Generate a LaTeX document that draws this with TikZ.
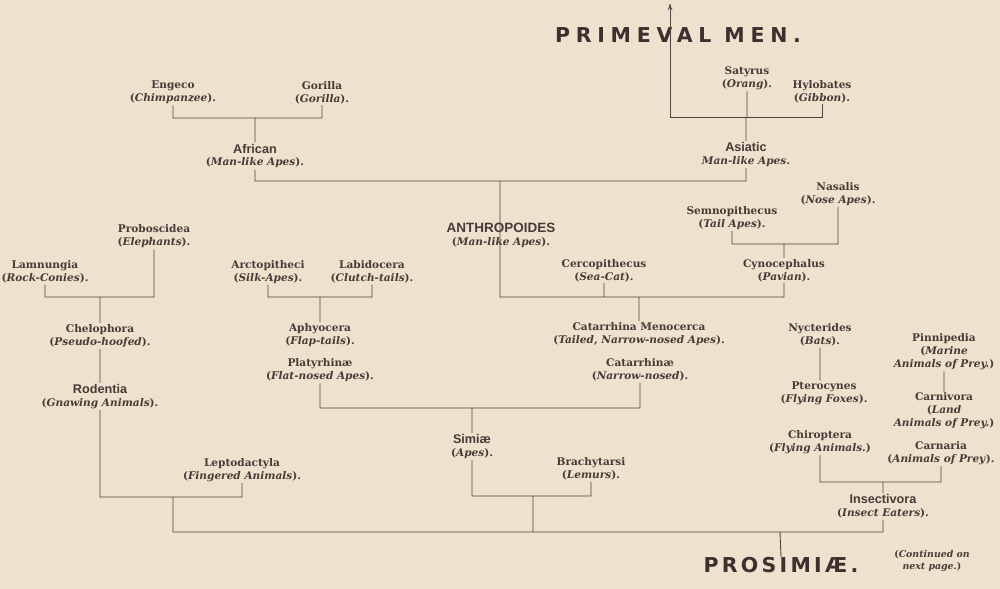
\documentclass[tikz,border=0pt]{standalone}
\usepackage{fontspec}
\setmainfont{DejaVu Serif}
\newfontfamily\grotesk{Liberation Sans}
\newfontfamily\spacedA{DejaVu Sans}[LetterSpace=28]
\newfontfamily\spacedB{DejaVu Sans}[LetterSpace=16]
\usetikzlibrary{calc, positioning}
\usetikzlibrary{arrows.meta}
\definecolor{paper}{RGB}{236,226,205}
\definecolor{ink}{RGB}{72,58,55}
\definecolor{rulecol}{RGB}{78,70,62}
\newcommand{\taxon}[2]{#1\\(\textit{#2}).}
\newcommand{\grp}[1]{{\grotesk\mdseries\bfseries\fontsize{10.8}{11}\selectfont #1}}

\begin{document}
\begin{tikzpicture}[x=0.03cm, y=-0.03cm,
		taxon/.style={align=center, inner sep=1pt, text=ink,
		              font=\bfseries\fontsize{9}{11}\selectfont},
		title/.style={inner sep=0pt, text=ink!85!black},
		branch/.style={draw=rulecol, line width=0.75pt}]
		\fill[paper] (0,0) rectangle (1000,589);
		\useasboundingbox (0,0) rectangle (1000,589);

		\node[title, font=\spacedA\bfseries\fontsize{17.5}{18}\selectfont]
		             (prim)      at (678, 35)  {PRIMEVAL MEN.};
		\node[taxon] (satyrus)   at (747, 78.5){\taxon{Satyrus}{Orang}};
		\node[taxon] (hylobates) at (822, 91.5){\taxon{Hylobates}{Gibbon}};
		\node[taxon] (asiatic)   at (746,154.5){\grp{Asiatic}\\\textit{Man-like Apes.}};
		\node[taxon] (engeco)    at (173, 92.5){\taxon{Engeco}{Chimpanzee}};
		\node[taxon] (gorilla)   at (322, 92.5){\taxon{Gorilla}{Gorilla}};
		\node[taxon] (african)   at (255,156)  {\grp{African}\\(\textit{Man-like Apes}).};
		\node[taxon] (anthro)    at (501,235)  {{\grotesk\mdseries\bfseries\fontsize{11.5}{12}\selectfont ANTHROPOIDES}\\(\textit{Man-like Apes}).};
		\node[taxon] (cerco)     at (604,270.5){\taxon{Cercopithecus}{Sea-Cat}};
		\node[taxon] (cyno)      at (784,270.5){\taxon{Cynocephalus}{Pavian}};
		\node[taxon] (semno)     at (732,218)  {\taxon{Semnopithecus}{Tail Apes}};
		\node[taxon] (nasalis)   at (838,194)  {\taxon{Nasalis}{Nose Apes}};
		\node[taxon] (menocerca) at (639,334)  {\taxon{Catarrhina Menocerca}{Tailed, Narrow-nosed Apes}};
		\node[taxon] (catarrh)   at (640,370)  {\taxon{Catarrhinæ}{Narrow-nosed}};
		\node[taxon] (platyr)    at (320,370.5){\taxon{Platyrhinæ}{Flat-nosed Apes}};
		\node[taxon] (aphyo)     at (320,335)  {\taxon{Aphyocera}{Flap-tails}};
		\node[taxon] (arcto)     at (268,272)  {\taxon{Arctopitheci}{Silk-Apes}};
		\node[taxon] (labido)    at (372,272)  {\taxon{Labidocera}{Clutch-tails}};
		\node[taxon] (probos)    at (154,236.5){\taxon{Proboscidea}{Elephants}};
		\node[taxon] (lamnun)    at ( 45,272)  {\taxon{Lamnungia}{Rock-Conies}};
		\node[taxon] (chelo)     at (100,336)  {\taxon{Chelophora}{Pseudo-hoofed}};
		\node[taxon] (rodentia)  at (100,396.5){\grp{Rodentia}\\(\textit{Gnawing Animals}).};
		\node[taxon] (lepto)     at (242,470)  {\taxon{Leptodactyla}{Fingered Animals}};
		\node[taxon] (simiae)    at (472,446.5){\grp{Simiæ}\\(\textit{Apes}).};
		\node[taxon] (brachy)    at (591,469)  {\taxon{Brachytarsi}{Lemurs}};
		\node[taxon] (nycter)    at (820,335)  {\taxon{Nycterides}{Bats}};
		\node[taxon] (pteroc)    at (824,393.5){\taxon{Pterocynes}{Flying Foxes}};
		\node[taxon] (chirop)    at (820,442)  {Chiroptera\\(\textit{Flying Animals.})};
		\node[taxon] (pinni)     at (944,352)  {Pinnipedia\\(\textit{Marine}\\\textit{Animals of Prey.})};
		\node[taxon] (carniv)    at (944,411)  {Carnivora\\(\textit{Land}\\\textit{Animals of Prey.})};
		\node[taxon] (carnaria)  at (941,453)  {\taxon{Carnaria}{Animals of Prey}};
		\node[taxon] (insect)    at (883,506.5){\grp{Insectivora}\\(\textit{Insect Eaters}).};
		\node[title, font=\spacedB\bfseries\fontsize{17.5}{18}\selectfont]
		             (prosim)    at (781,565)  {PROSIMIÆ.};
		\node[taxon, font=\bfseries\fontsize{8}{10}\selectfont]
		             (contd)     at (932,561)  {(\textit{Continued on}\\\textit{next page.})};

		\coordinate (tip)   at (670,  4);
		\coordinate (jprim) at (670,117);
		\coordinate (jafr)  at (255,118);
		\coordinate (janth) at (500,181);
		\coordinate (jcata) at (500,297);
		\coordinate (jcyno) at (784,244);
		\coordinate (jche)  at (100,297);
		\coordinate (japh)  at (320,297);
		\coordinate (jsim)  at (472,408);
		\coordinate (jlem)  at (533,496);
		\coordinate (jrod)  at (173,497);
		\coordinate (jpro)  at (780,532);
		\coordinate (jins)  at (883,482);

		\draw[branch, -{To[length=5pt,width=4pt]}]
		      (hylobates.south) |- (jprim) -- (tip);
		\draw[branch]
		      (satyrus.south)   -- (satyrus.south |- jprim)
		      (asiatic.north)   -- (asiatic.north |- jprim)
		      (asiatic.south)   |- (janth) -| (african.south)
		      (engeco.south)    |- (jafr)  -| (gorilla.south)
		      (african.north)   -- (jafr)
		      (janth)           -- (jcata) -| (cyno.south)
		      (cerco.south)     -- (cerco.south |- jcata)
		      (menocerca.north) -- (menocerca.north |- jcata)
		      (semno.south)     |- (jcyno) -| (nasalis.south)
		      (cyno.north)      -- (jcyno)
		      (lamnun.south)    |- (jche)  -| (probos.south)
		      (chelo.north)     -- (jche)
		      (chelo.south)     -- (rodentia.north)
		      (arcto.south)     |- (japh)  -| (labido.south)
		      (aphyo.north)     -- (japh)
		      (platyr.south)    |- (jsim)  -| (catarrh.south)
		      (simiae.north)    -- (jsim)
		      (simiae.south)    |- (jlem)  -| (brachy.south)
		      (rodentia.south)  |- (jrod)  -| (lepto.south)
		      (jrod)            |- (jpro)  -| (insect.south)
		      (jlem)            -- (jlem |- jpro)
		      (prosim.north)    -- (jpro)
		      (nycter.south)    -- (nycter.south |- pteroc.north)
		      (pinni.south)     -- (carniv.north)
		      (chirop.south)    |- (jins)  -| (carnaria.south)
		      (insect.north)    -- (jins);
	\end{tikzpicture}
\end{document}
